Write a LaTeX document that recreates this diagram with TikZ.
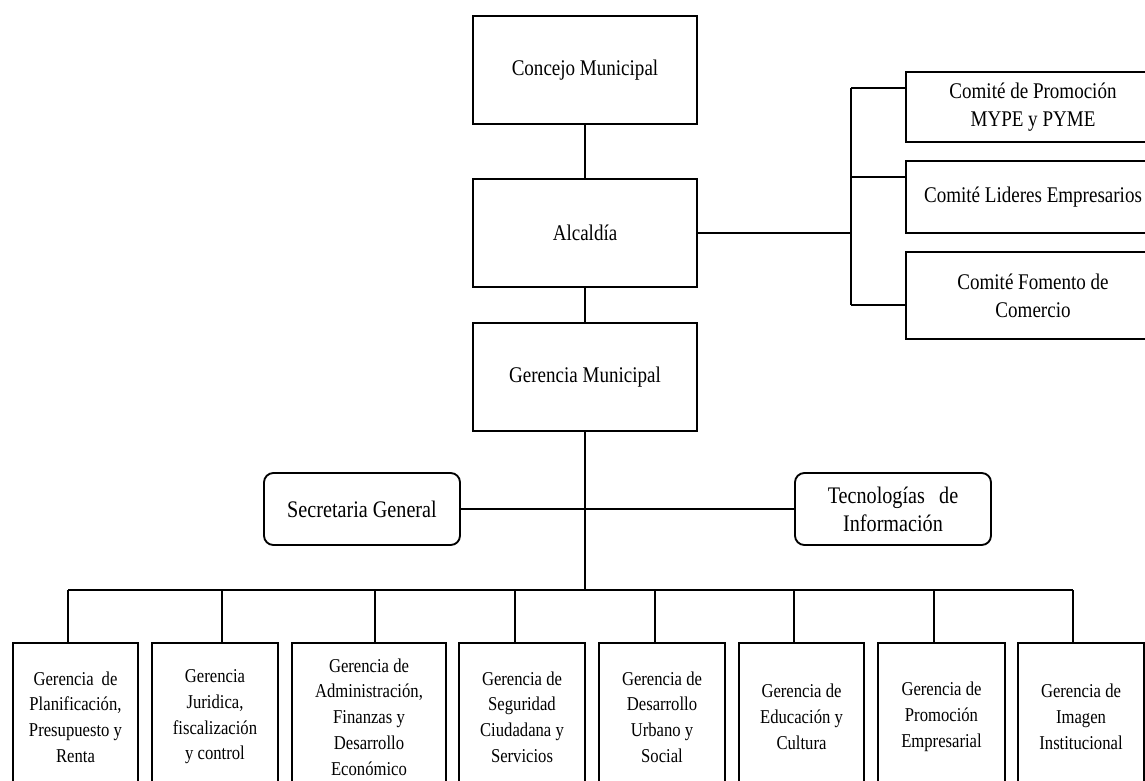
\documentclass[tikz,border=0pt]{standalone}
\usepackage{fontspec}
\setmainfont[FakeStretch=0.85]{Liberation Serif}
\begin{document}
\begin{tikzpicture}[x=0.75pt,y=-0.75pt,
  line width=1.4pt,
  box/.style={draw, rectangle, inner sep=0pt, align=center},
  topbox/.style={box, minimum width=168pt, minimum height=81pt,
    font=\fontsize{16.8}{21}\selectfont},
  cmtbox/.style={box, minimum width=190.5pt,
    font=\fontsize{16.8}{21}\selectfont},
  roundbox/.style={box, rounded corners=7pt, minimum width=147pt,
    minimum height=54pt, font=\fontsize{17.8}{21}\selectfont},
  gerbox/.style={box, minimum height=111pt,
    font=\fontsize{14.7}{19.3}\selectfont},
  link/.style={draw, line width=1.4pt}
]
\useasboundingbox (0,0) rectangle (1145,781);
\clip (0,0) rectangle (1145,781);

% main chain
\node[topbox] (cm) at (585,70)  {Concejo Municipal};
\node[topbox] (al) at (585,233) {Alcaldía};
\node[topbox] (gm) at (585,377) {Gerencia Municipal};

% committees
\node[cmtbox, minimum height=52.5pt] (c1) at (1033,107)   {Comité de Promoción\\MYPE y PYME};
\node[cmtbox, minimum height=54pt]   (c2) at (1033,197)   {Comité Lideres Empresarios};
\node[cmtbox, minimum height=65pt]   (c3) at (1033,295.5) {Comité Fomento de\\Comercio};

% staff units
\node[roundbox] (sg) at (362,509) {Secretaria General};
\node[roundbox] (ti) at (893,509) {Tecnologías\hspace{0.6em}de\\Información};

% managements
\node[gerbox, minimum width=93.75pt]  (g1) at (75.5,717)  {Gerencia\hspace{0.2em} de\\Planificación,\\Presupuesto y\\Renta};
\node[gerbox, minimum width=94.5pt]   (g2) at (215,717)   {Gerencia\\Juridica,\\fiscalización\\y control};
\node[gerbox, minimum width=115.5pt]  (g3) at (369,717)   {Gerencia de\\Administración,\\Finanzas y\\Desarrollo\\Económico};
\node[gerbox, minimum width=94.5pt]   (g4) at (522,717)   {Gerencia de\\Seguridad\\Ciudadana y\\Servicios};
\node[gerbox, minimum width=94.5pt]   (g5) at (662,717)   {Gerencia de\\Desarrollo\\Urbano y\\Social};
\node[gerbox, minimum width=93.75pt]  (g6) at (801.5,717) {Gerencia de\\Educación y\\Cultura};
\node[gerbox, minimum width=95.25pt]  (g7) at (941.5,717) {Gerencia de\\Promoción\\Empresarial};
\node[gerbox, minimum width=94.5pt]   (g8) at (1081,717)  {Gerencia de\\Imagen\\Institucional};

% vertical chain
\draw[link] (cm.south) -- (al.north);
\draw[link] (al.south) -- (gm.north);
\coordinate (bus) at (585,590);
\draw[link] (gm.south) -- (bus);

% committee bracket
\coordinate (ct) at (851,88);
\coordinate (cj) at (851,233);
\coordinate (cmid) at (851,177);
\coordinate (cb) at (851,305);
\draw[link] (al.east) -- (cj);
\draw[link] (ct) -- (cb);
\draw[link] (ct) -- (ct -| c1.west);
\draw[link] (cmid) -- (cmid -| c2.west);
\draw[link] (cb) -- (cb -| c3.west);

% staff line
\draw[link] (sg.east) -- (ti.west);

% management bus and drops
\coordinate (d1) at (68,590);
\coordinate (d2) at (222,590);
\coordinate (d3) at (375,590);
\coordinate (d4) at (515,590);
\coordinate (d5) at (655,590);
\coordinate (d6) at (794,590);
\coordinate (d7) at (934,590);
\coordinate (d8) at (1073,590);
\draw[link] (d1) -- (d8);
\foreach \i in {1,...,8}{
  \draw[link] (d\i) -- (d\i |- g\i.north);
}
\end{tikzpicture}
\end{document}
